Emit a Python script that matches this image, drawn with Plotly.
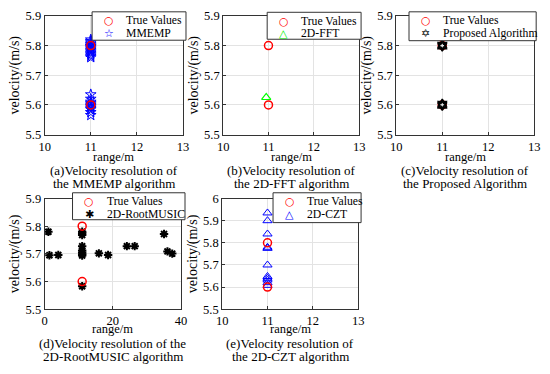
import plotly.graph_objects as go

W, H = 550, 374

true_range = [11, 11]
true_vel = [5.8, 5.6]

mmemp_range = [11] * 24
mmemp_vel = [5.82, 5.815, 5.81, 5.805, 5.80, 5.798, 5.795, 5.79, 5.785, 5.78, 5.775, 5.77, 5.765, 5.76,
             5.635, 5.62, 5.61, 5.605, 5.60, 5.595, 5.59, 5.585, 5.575, 5.565]

fft_range = [10.95]
fft_vel = [5.625]

prop_range = [11, 11, 11, 11, 11, 11]
prop_vel = [5.8, 5.797, 5.803, 5.6, 5.597, 5.604]

music_range = [1.1, 1.4, 4.0, 11, 11, 11, 11, 11, 11, 11, 11, 11, 15.9, 18.6, 24.1, 26.4, 35.0, 36.0, 37.4]
music_vel = [5.78, 5.695, 5.696, 5.78, 5.775, 5.768, 5.728, 5.712, 5.705, 5.699, 5.694, 5.583,
             5.702, 5.696, 5.728, 5.728, 5.772, 5.709, 5.701]

czt_range = [11] * 11
czt_vel = [5.935, 5.90, 5.84, 5.78, 5.775, 5.70, 5.648, 5.64, 5.632, 5.62, 5.608]

series_names = ["MMEMP", "2D-FFT", "Proposed Algorithm", "2D-RootMUSIC", "2D-CZT"]
true_name = "True Values"

caption_lines = [
    ["(a)Velocity resolution of", "the MMEMP algorithm"],
    ["(b)Velocity resolution of", "the 2D-FFT algorithm"],
    ["(c)Velocity resolution of", "the Proposed Algorithm"],
    ["(d)Velocity resolution of the", "2D-RootMUSIC algorithm"],
    ["(e)Velocity resolution of", "the 2D-CZT algorithm"],
]

FONT = "Liberation Serif"

# pixel boxes: (left, right, top, bottom)
boxes = [
    (39.5, 181, 9.3, 132.5),
    (222, 361, 9.3, 132.5),
    (399, 540, 9.3, 132.5),
    (39.5, 179, 199, 314),
    (221, 360, 199, 314),
]
# y centres of "range/m", caption line 1, caption line 2
text_rows = [(155.5, 169.5, 183.5)] * 3 + [(334.5, 349.5, 363)] * 2

xranges = [[10, 13], [10, 13], [10, 13], [0, 40], [10, 13]]
yranges = [[5.5, 5.9], [5.5, 5.9], [5.5, 5.9], [5.5, 5.9], [5.5, 6.0]]
xticks = [[10, 11, 12, 13]] * 3 + [[0, 20, 40]] + [[10, 11, 12, 13]]
yticks = [[5.5, 5.6, 5.7, 5.8, 5.9]] * 4 + [[5.5, 5.6, 5.7, 5.8, 5.9, 6.0]]
yticktext = [["5.5", "5.6", "5.7", "5.8", "5.9"]] * 4 + [["5.5", "5.6", "5.7", "5.8", "5.9", "6"]]

markers = [
    dict(symbol="star-open", size=8, color="blue", line=dict(color="blue", width=1)),
    dict(symbol="triangle-up-open", size=8, color="#00ff00", line=dict(color="#00ff00", width=1.2)),
    dict(symbol="hexagram-open", size=7, color="black", line=dict(color="black", width=1.5)),
    dict(symbol="asterisk-open", size=7, color="black", line=dict(color="black", width=2)),
    dict(symbol="triangle-up-open", size=8, color="blue", line=dict(color="blue", width=1)),
]
true_marker = dict(symbol="circle-open", size=8, color="red", line=dict(color="red", width=1.5))

# legend glyphs (text) and their colours
leg_glyph = ["\u2606", "\u25b3", "\u2721", "\u2731", "\u25b3"]
leg_color = ["blue", "#00ee00", "black", "black", "blue"]

# legend boxes (left, right, top, bottom) in px
legend_boxes = [(88, 184, 5, 34.5), (267, 363, 5.5, 33.5), (412, 542, 5, 35),
                (68, 183, 193, 221), (273, 363, 193, 224)]

data_r = [mmemp_range, fft_range, prop_range, music_range, czt_range]
data_v = [mmemp_vel, fft_vel, prop_vel, music_vel, czt_vel]

fig = go.Figure()


def px(x):
    return x / W


def py(y):
    return 1 - y / H


annotations = []
shapes = []
for i, box in enumerate(boxes):
    n = "" if i == 0 else str(i + 1)
    xa = "x" + n
    ya = "y" + n
    t_alg = go.Scatter(x=data_r[i], y=data_v[i], mode="markers", name=series_names[i],
                       marker=markers[i], xaxis=xa, yaxis=ya, showlegend=False)
    t_true = go.Scatter(x=true_range, y=true_vel, mode="markers", name=true_name,
                        marker=true_marker, xaxis=xa, yaxis=ya, showlegend=False)
    if i == 2:
        fig.add_trace(t_true)
        fig.add_trace(t_alg)
    else:
        fig.add_trace(t_alg)
        fig.add_trace(t_true)
    l, r, t, b = box
    axcommon = dict(showline=True, linecolor="#333333", linewidth=1, mirror=True,
                    showgrid=True, gridcolor="#e3e3e3", gridwidth=1, zeroline=False,
                    ticks="inside", ticklen=3, tickcolor="#333333",
                    tickfont=dict(family=FONT, size=12.5, color="black"))
    fig.layout["xaxis" + n] = dict(domain=[px(l), px(r)], range=xranges[i], tickvals=xticks[i],
                                   anchor=ya, **axcommon)
    fig.layout["yaxis" + n] = dict(domain=[py(b), py(t)], range=yranges[i], tickvals=yticks[i],
                                   ticktext=yticktext[i], anchor=xa,
                                   title=dict(text="velocity/(m/s)",
                                              font=dict(family=FONT, size=14, color="black", weight="normal"),
                                              standoff=2),
                                   **axcommon)
    # legend box
    ll, lr, lt, lb = legend_boxes[i]
    shapes.append(dict(type="rect", xref="paper", yref="paper", x0=px(ll), x1=px(lr), y0=py(lb), y1=py(lt),
                       line=dict(color="#333333", width=1), fillcolor="white", layer="above"))
    rows = [(lt + 9.5, "red", "\u25cb", true_name), (lt + 22.5, leg_color[i], leg_glyph[i], series_names[i])]
    for (ry, col, glyph, label) in rows:
        annotations.append(dict(x=px(ll + 17), y=py(ry), xref="paper", yref="paper", text=glyph,
                                showarrow=False, xanchor="center", yanchor="middle",
                                font=dict(family="DejaVu Sans", size=11, color=col)))
        annotations.append(dict(x=px(ll + 33), y=py(ry), xref="paper", yref="paper", text=label,
                                showarrow=False, xanchor="left", yanchor="middle",
                                font=dict(family=FONT, size=11.7, color="black")))
    cx = (l + r) / 2
    yr, y1, y2 = text_rows[i]
    annotations.append(dict(x=px(cx), y=py(yr), xref="paper", yref="paper", text="range/m",
                            showarrow=False, font=dict(family=FONT, size=12.5, color="black"),
                            xanchor="center", yanchor="middle"))
    for yy, txt in zip((y1, y2), caption_lines[i]):
        annotations.append(dict(x=px(cx), y=py(yy), xref="paper", yref="paper", text=txt,
                                showarrow=False, font=dict(family=FONT, size=13, color="black"),
                                xanchor="center", yanchor="middle"))

fig.update_layout(width=W, height=H, margin=dict(l=0, r=0, t=0, b=0),
                  paper_bgcolor="white", plot_bgcolor="white",
                  annotations=annotations, shapes=shapes, showlegend=False)

fix_page = ("document.documentElement.style.margin='0px';"
            "document.body.style.margin='0px';"
            "document.body.style.padding='0px';"
            "document.body.style.overflow='hidden';"
            "var d=document.getElementById('{plot_id}');"
            "d.style.position='absolute';d.style.left='0px';d.style.top='0px';")

fig.write_html("out.html", config={"displayModeBar": False}, post_script=fix_page)
